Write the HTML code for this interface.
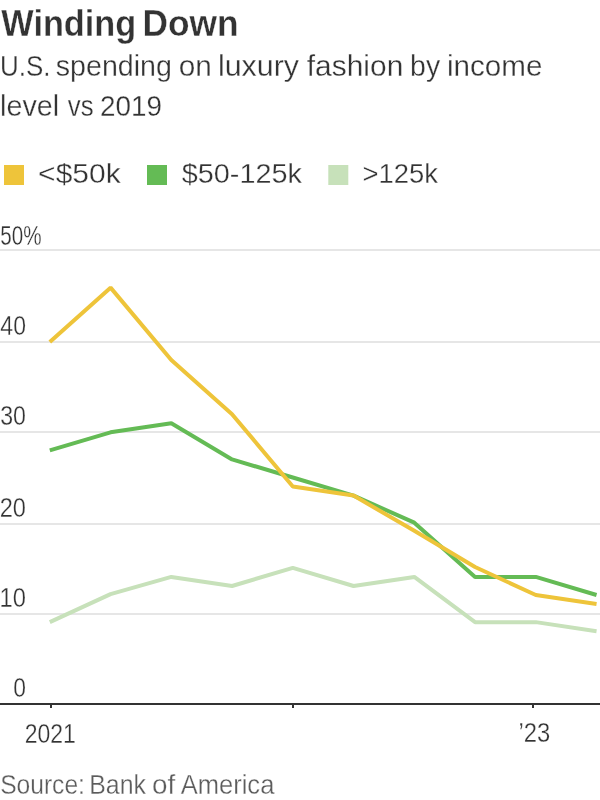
<!DOCTYPE html>
<html><head><meta charset="utf-8"><style>
html,body{margin:0;padding:0;background:#fff;width:600px;height:800px;overflow:hidden}
svg{display:block;will-change:transform}
text{font-family:"Liberation Sans",sans-serif;stroke:#fff;stroke-width:0.3px}
</style></head><body>
<svg width="600" height="800" viewBox="0 0 600 800">
<rect width="600" height="800" fill="#fff"/>
<rect x="4" y="165" width="20" height="20" fill="#EEC43A"/>
<rect x="147" y="165" width="20" height="20" fill="#64BB55"/>
<rect x="328.3" y="165" width="20" height="20" fill="#C7E1BA"/>
<rect x="0" y="249" width="600" height="2" fill="#e6e6e6"/>
<rect x="0" y="341" width="600" height="2" fill="#e6e6e6"/>
<rect x="0" y="431" width="600" height="2" fill="#e6e6e6"/>
<rect x="0" y="523" width="600" height="2" fill="#e6e6e6"/>
<rect x="0" y="613" width="600" height="2" fill="#e6e6e6"/>
<rect x="0" y="703" width="600" height="2" fill="#333"/>
<rect x="50" y="705" width="2" height="3" fill="#333"/>
<rect x="292" y="705" width="2" height="3" fill="#333"/>
<rect x="532" y="705" width="2" height="3" fill="#333"/>
<text x="1.30" y="36" font-size="36" font-weight="bold" fill="#333" textLength="134.98" lengthAdjust="spacingAndGlyphs">Winding</text>
<text x="142.55" y="36" font-size="36" font-weight="bold" fill="#333" textLength="96.04" lengthAdjust="spacingAndGlyphs">Down</text>
<text x="0.06" y="75.8" font-size="30" fill="#333" textLength="50.41" lengthAdjust="spacingAndGlyphs">U.S.</text>
<text x="55.75" y="75.8" font-size="30" fill="#333" textLength="116.19" lengthAdjust="spacingAndGlyphs">spending</text>
<text x="178.76" y="75.8" font-size="30" fill="#333" textLength="33.10" lengthAdjust="spacingAndGlyphs">on</text>
<text x="217.98" y="75.8" font-size="30" fill="#333" textLength="81.01" lengthAdjust="spacingAndGlyphs">luxury</text>
<text x="306.80" y="75.8" font-size="30" fill="#333" textLength="96.49" lengthAdjust="spacingAndGlyphs">fashion</text>
<text x="410.10" y="75.8" font-size="30" fill="#333" textLength="30.08" lengthAdjust="spacingAndGlyphs">by</text>
<text x="447.03" y="75.8" font-size="30" fill="#333" textLength="95.42" lengthAdjust="spacingAndGlyphs">income</text>
<text x="0.08" y="115.8" font-size="30" fill="#333" textLength="59.09" lengthAdjust="spacingAndGlyphs">level</text>
<text x="67.79" y="115.8" font-size="30" fill="#333" textLength="25.77" lengthAdjust="spacingAndGlyphs">vs</text>
<text x="99.91" y="115.8" font-size="30" fill="#333" textLength="61.99" lengthAdjust="spacingAndGlyphs">2019</text>
<text x="38.14" y="183.3" font-size="27.5" fill="#333" textLength="82.61" lengthAdjust="spacingAndGlyphs">&lt;$50k</text>
<text x="181.74" y="183.3" font-size="27.5" fill="#333" textLength="120.20" lengthAdjust="spacingAndGlyphs">$50-125k</text>
<text x="362.46" y="183.3" font-size="27.5" fill="#333" textLength="75.40" lengthAdjust="spacingAndGlyphs">&gt;125k</text>
<text x="0.31" y="244.75" font-size="27.5" fill="#333" textLength="41.27" lengthAdjust="spacingAndGlyphs">50%</text>
<text x="0.37" y="334.6" font-size="27.5" fill="#333" textLength="25.54" lengthAdjust="spacingAndGlyphs">40</text>
<text x="0.16" y="424.6" font-size="27.5" fill="#333" textLength="25.76" lengthAdjust="spacingAndGlyphs">30</text>
<text x="-0.29" y="516.75" font-size="27.5" fill="#333" textLength="26.22" lengthAdjust="spacingAndGlyphs">20</text>
<text x="-0.42" y="607" font-size="27.5" fill="#333" textLength="26.37" lengthAdjust="spacingAndGlyphs">10</text>
<text x="13.17" y="696.5" font-size="27.5" fill="#333" textLength="12.70" lengthAdjust="spacingAndGlyphs">0</text>
<text x="24.75" y="742.5" font-size="27.5" fill="#333" textLength="51.16" lengthAdjust="spacingAndGlyphs">2021</text>
<text x="518.49" y="742.3" font-size="27.5" fill="#333" textLength="31.76" lengthAdjust="spacingAndGlyphs">’23</text>
<text x="0.13" y="793.75" font-size="27.5" fill="#5c5c5c" textLength="84.83" lengthAdjust="spacingAndGlyphs">Source:</text>
<text x="89.27" y="793.75" font-size="27.5" fill="#5c5c5c" textLength="56.68" lengthAdjust="spacingAndGlyphs">Bank</text>
<text x="152.04" y="793.75" font-size="27.5" fill="#5c5c5c" textLength="23.20" lengthAdjust="spacingAndGlyphs">of</text>
<text x="180.70" y="793.75" font-size="27.5" fill="#5c5c5c" textLength="93.65" lengthAdjust="spacingAndGlyphs">America</text>
<g fill="none" stroke-width="4" stroke-linejoin="bevel" stroke-linecap="butt">
<polyline points="49.80,622.14 110.55,594.12 171.30,576.94 232.05,585.98 292.80,567.90 353.55,585.98 414.30,576.94 475.05,622.14 535.80,622.14 596.55,631.18" stroke="#C7E1BA"/>
<polyline points="49.80,450.38 110.55,432.30 171.30,423.26 232.05,459.42 292.80,477.50 353.55,495.58 414.30,522.70 475.05,576.94 535.80,576.94 596.55,595.02" stroke="#64BB55"/>
<polyline points="49.80,341.90 110.55,287.66 171.30,359.98 232.05,414.22 292.80,486.54 353.55,495.58 414.30,530.84 475.05,567.00 535.80,595.02 596.55,604.06" stroke="#EEC43A"/>
</g>
</svg>
</body></html>
